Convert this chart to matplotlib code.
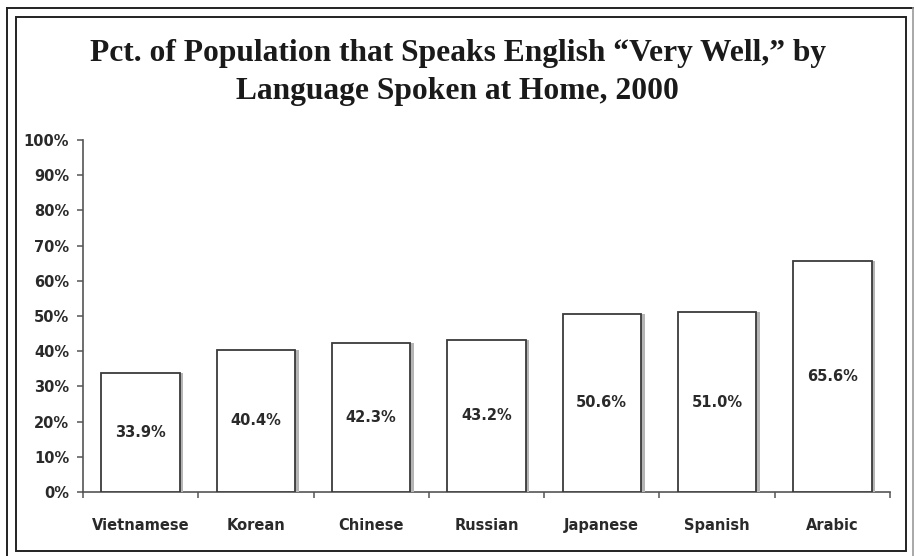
import matplotlib
matplotlib.use("Agg")
import matplotlib.pyplot as plt
from matplotlib.patches import Rectangle
from matplotlib.lines import Line2D
import matplotlib.patheffects as pe
import numpy as np

languages = ["Vietnamese", "Korean", "Chinese", "Russian", "Japanese", "Spanish", "Arabic"]
pct_very_well = [33.9, 40.4, 42.3, 43.2, 50.6, 51.0, 65.6]
y_ticks = [0, 10, 20, 30, 40, 50, 60, 70, 80, 90, 100]
title_lines = ["Pct. of Population that Speaks English \u201cVery Well,\u201d by",
               "Language Spoken at Home, 2000"]

W, H = 915, 556
fig = plt.figure(figsize=(W / 100, H / 100), dpi=100)
fig.patch.set_facecolor("white")

def fx(px):
    return px / W

def fy(py):
    return 1 - py / H

# frames
fig.add_artist(Line2D([fx(7), fx(7)], [fy(8), 0], color="#222", lw=1.4, transform=fig.transFigure))
fig.add_artist(Line2D([fx(7), fx(913)], [fy(8), fy(8)], color="#222", lw=1.4, transform=fig.transFigure))
fig.add_artist(Line2D([fx(913), fx(913)], [fy(8), 0], color="#999", lw=1.2, transform=fig.transFigure))
fig.add_artist(Rectangle((fx(16), fy(551)), fx(906) - fx(16), fy(17) - fy(551),
                         fill=False, edgecolor="#222", lw=1.4, transform=fig.transFigure))

# title
fig.text(0.5, fy(61), title_lines[0], ha="center", va="baseline",
         fontfamily="Liberation Serif", fontweight="bold", fontsize=22.7, color="#1a1a1a")
fig.text(0.5, fy(99), title_lines[1], ha="center", va="baseline",
         fontfamily="Liberation Serif", fontweight="bold", fontsize=22.7, color="#1a1a1a")

ax = fig.add_axes([fx(83), fy(492), fx(890) - fx(83), fy(140) - fy(492)])
x = np.arange(len(languages))
bars = ax.bar(x, pct_very_well, width=0.68, facecolor="white", edgecolor="#3a3a3a", linewidth=1.3, zorder=3)
for b in bars:
    b.set_path_effects([pe.SimplePatchShadow(offset=(2.6, 0), shadow_rgbFace="#b5b5b5", alpha=1.0), pe.Normal()])

for xi, v in zip(x, pct_very_well):
    ax.text(xi, v / 2, f"{v:.1f}%", ha="center", va="center", fontfamily="DejaVu Sans",
            fontweight="bold", fontsize=10.5, color="#2a2a2a", zorder=4)

ax.set_xlim(-0.5, len(languages) - 0.5)
ax.set_ylim(0, 100)
ax.set_yticks(y_ticks)
ax.set_yticklabels([f"{t}%" for t in y_ticks])
ax.set_xticks(x)
ax.set_xticklabels(languages)
ax.set_xticks(np.arange(len(languages) + 1) - 0.5, minor=True)
ax.tick_params(axis="x", which="major", length=0, pad=19)
ax.tick_params(axis="x", which="minor", length=4, width=1.1, color="#555", direction="out")
ax.tick_params(axis="y", length=4, width=1.1, color="#555", direction="out", pad=6)
for lab in ax.get_xticklabels() + ax.get_yticklabels():
    lab.set_fontfamily("DejaVu Sans")
    lab.set_fontweight("bold")
    lab.set_fontsize(10.5)
    lab.set_color("#2a2a2a")

for s in ["top", "right"]:
    ax.spines[s].set_visible(False)
for s in ["left", "bottom"]:
    ax.spines[s].set_color("#555")
    ax.spines[s].set_linewidth(1.2)
ax.set_facecolor("white")

fig.savefig("out.png", dpi=100)
